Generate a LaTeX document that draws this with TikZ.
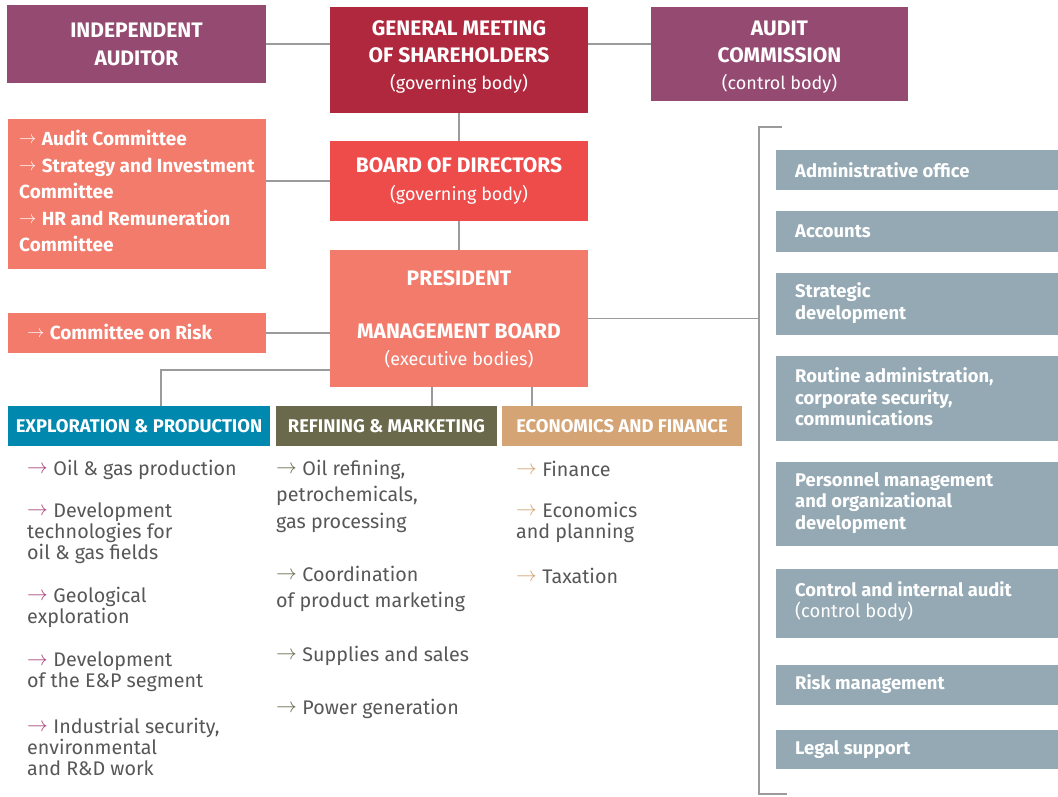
\documentclass[tikz,border=0pt]{standalone}
\usepackage{fontspec}
\setmainfont{Fira Sans}
\definecolor{cpurple}{HTML}{954A72}
\definecolor{ccrimson}{HTML}{B0283D}
\definecolor{cred}{HTML}{EE4B4B}
\definecolor{csalmon}{HTML}{F27B6B}
\definecolor{cblue}{HTML}{0088AF}
\definecolor{colive}{HTML}{6A694B}
\definecolor{ctan}{HTML}{D4A474}
\definecolor{cslate}{HTML}{94A9B4}
\definecolor{cline}{HTML}{9B9B9B}
\definecolor{ctext}{HTML}{575757}
\definecolor{carrep}{HTML}{A9477F}
\newcommand{\arw}{\raisebox{0.09em}{$\rightarrow$}\hspace{0.28em}}
\newcommand{\arep}{{\color{carrep}\arw}}
\newcommand{\arrm}{{\color{colive}\arw}}
\newcommand{\aref}{{\color{ctan}\arw}}
\newcommand{\subfont}{\fontsize{18}{22}\selectfont\mdseries}
\begin{document}
\begin{tikzpicture}[x=1pt,y=-1pt,
  box/.style={anchor=north west, inner sep=0pt, outer sep=0pt},
  conn/.style={draw=cline, line width=1.6pt},
  ttl/.style={text=white, align=center, inner sep=0pt, font=\fontsize{21}{27}\selectfont\bfseries},
  cmt/.style={text=white, align=left, anchor=west, inner sep=0pt, font=\fontsize{19}{26.5}\selectfont\bfseries},
  hdr/.style={box, minimum height=40pt},
  hdrt/.style={text=white, font=\fontsize{18.4}{22}\selectfont\bfseries, inner sep=0pt},
  item/.style={anchor=west, align=left, inner sep=0pt, text=ctext, font=\fontsize{19.7}{21}\selectfont},
  itemw/.style={item, font=\fontsize{19.7}{26.5}\selectfont},
  rbox/.style={box, fill=cslate, minimum width=282pt},
  rtxt/.style={anchor=west, align=left, inner sep=0pt, text=white, font=\fontsize{18.4}{21.5}\selectfont\bfseries}
]
\useasboundingbox (0,0) rectangle (1058,796);
% top row
\node[box, fill=cpurple, minimum width=259pt, minimum height=78pt] (ia) at (7,5) {};
\node[ttl, font=\fontsize{21}{28}\selectfont\bfseries] (iat) at (136.5,44) {INDEPENDENT\\AUDITOR};
\node[box, fill=ccrimson, minimum width=258pt, minimum height=106pt] (gm) at (330,7) {};
\node[ttl] (gmt) at (459,57) {GENERAL MEETING\\OF SHAREHOLDERS\\{\subfont (governing body)}};
\node[box, fill=cpurple, minimum width=257pt, minimum height=94pt] (ac) at (651,7) {};
\node[ttl] (act) at (779.5,57) {AUDIT\\COMMISSION\\{\subfont (control body)}};
% committees
\node[box, fill=csalmon, minimum width=258pt, minimum height=150pt] (com) at (8,119) {};
\node[cmt] (comt) at (19,191) {\arw Audit Committee\\\arw Strategy and Investment\\Committee\\\arw HR and Remuneration\\Committee};
\node[box, fill=cred, minimum width=258pt, minimum height=80pt] (bod) at (330,141) {};
\node[ttl, font=\fontsize{21}{28}\selectfont\bfseries] (bodt) at (459,181) {BOARD OF DIRECTORS\\{\subfont (governing body)}};
\node[box, fill=csalmon, minimum width=258pt, minimum height=40pt] (risk) at (8,313) {};
\node[cmt] (riskt) at (27,332) {\arw Committee on Risk};
\node[box, fill=csalmon, minimum width=258pt, minimum height=137pt] (pres) at (330,250) {};
\node[ttl] (prest) at (459,278) {PRESIDENT};
\node[ttl] (mbt) at (459,331) {MANAGEMENT BOARD};
\node[ttl, font=\subfont] (exet) at (459,359) {(executive bodies)};
% headers
\node[hdr, fill=cblue, minimum width=262pt] (ep) at (8,406) {};
\node[hdrt] (ept) at (139,426) {EXPLORATION \& PRODUCTION};
\node[hdr, fill=colive, minimum width=221pt] (rm) at (276,406) {};
\node[hdrt] (rmt) at (386.5,426) {REFINING \& MARKETING};
\node[hdr, fill=ctan, minimum width=240pt] (ef) at (502,406) {};
\node[hdrt] (eft) at (622,426) {ECONOMICS AND FINANCE};
% connectors
\coordinate (epj) at (161,370);
\coordinate (rmx) at (432,0);
\coordinate (efx) at (532,0);
\coordinate (brk) at (759,0);
\coordinate (bt) at (782,127);
\coordinate (bb) at (787,794);
\draw[conn] (ia.east) -- (ia.east -| gm.west);
\draw[conn] (gm.east |- ia.east) -- (ia.east -| ac.west);
\draw[conn] (gm.south) -- (bod.north);
\draw[conn] (bod.west) -- (bod.west -| com.east);
\draw[conn] (bod.south) -- (pres.north);
\draw[conn] (risk.east) -- (risk.east -| pres.west);
\draw[conn] (pres.west |- epj) -- (epj) -- (epj |- ep.north);
\draw[conn] (pres.south -| rmx) -- (rm.north -| rmx);
\draw[conn] (pres.south -| efx) -- (ef.north -| efx);
\draw[conn] (pres.east) -- (pres.east -| brk);
\draw[conn] (bt) -- (bt -| brk) -- (bb -| brk) -- (bb);
% EP items
\node[item] (ep1) at (27,470) {\arep Oil \& gas production};
\node[item] (ep2) at (27,533) {\arep Development\\technologies for\\oil \& gas fields};
\node[item] (ep3) at (27,607.5) {\arep Geological\\exploration};
\node[item] (ep4) at (27,672) {\arep Development\\of the E\&P segment};
\node[item] (ep5) at (27,747) {\arep Industrial security,\\environmental\\and R\&D work};
% RM items
\node[itemw] (rm1) at (276,496) {\arrm Oil refining,\\petrochemicals,\\gas processing};
\node[itemw] (rm2) at (276,589) {\arrm Coordination\\of product marketing};
\node[item] (rm3) at (276,656) {\arrm Supplies and sales};
\node[item] (rm4) at (276,709) {\arrm Power generation};
% EF items
\node[item] (ef1) at (516,469) {\aref Finance};
\node[item] (ef2) at (516,522.5) {\aref Economics\\and planning};
\node[item] (ef3) at (516,576) {\aref Taxation};
% right boxes
\node[rbox, minimum height=40pt] (r1) at (776,150) {};
\node[rtxt] (r1t) at (795,170) {Administrative office};
\node[rbox, minimum height=41pt] (r2) at (776,211) {};
\node[rtxt] (r2t) at (795,231.5) {Accounts};
\node[rbox, minimum height=62pt] (r3) at (776,273) {};
\node[rtxt] (r3t) at (795,303) {Strategic\\development};
\node[rbox, minimum height=85pt] (r4) at (776,356) {};
\node[rtxt] (r4t) at (795,397) {Routine administration,\\corporate security,\\communications};
\node[rbox, minimum height=84pt] (r5) at (776,462) {};
\node[rtxt] (r5t) at (795,503) {Personnel management\\and organizational\\development};
\node[rbox, minimum height=69pt] (r6) at (776,569) {};
\node[rtxt] (r6t) at (795,601.5) {Control and internal audit\\{\mdseries (control body)}};
\node[rbox, minimum height=40pt] (r7) at (776,665) {};
\node[rtxt] (r7t) at (795,684.5) {Risk management};
\node[rbox, minimum height=39pt] (r8) at (776,730) {};
\node[rtxt] (r8t) at (795,749.5) {Legal support};
\end{tikzpicture}
\end{document}
